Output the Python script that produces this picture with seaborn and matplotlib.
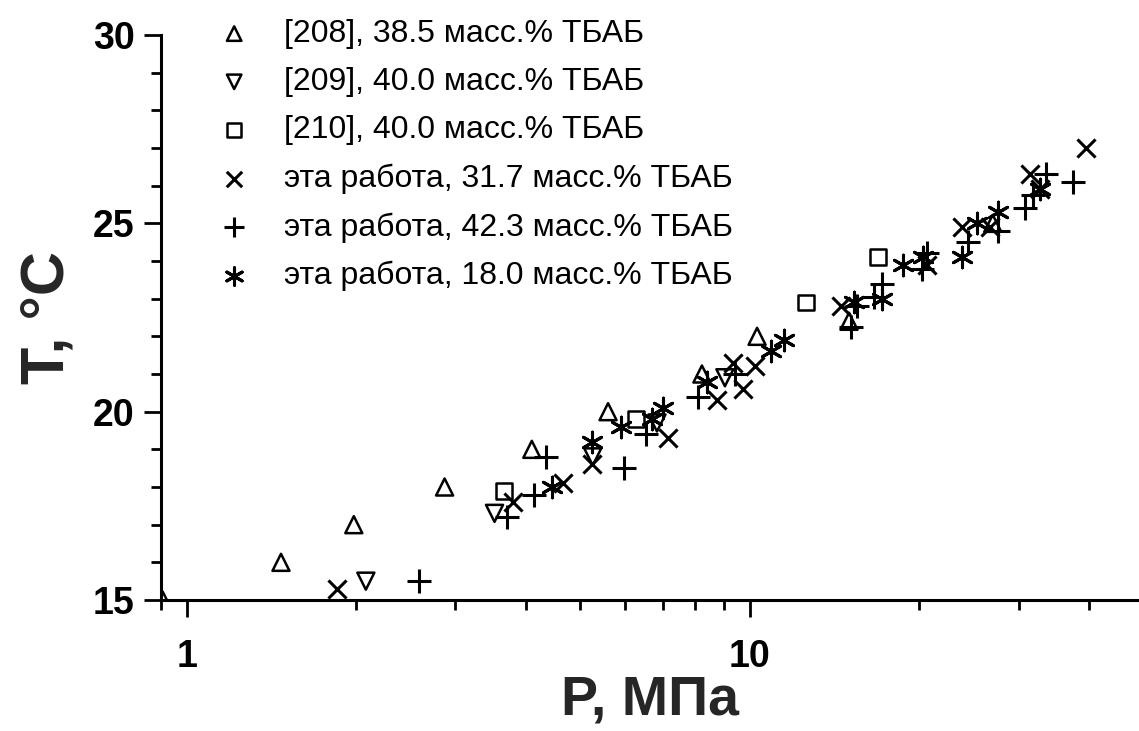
import matplotlib
matplotlib.use("Agg")
import matplotlib.pyplot as plt
import matplotlib.ticker as mticker
import seaborn as sns
import pandas as pd

# ---- data ----
p_208 = [0.906, 1.47, 1.98, 2.87, 4.10, 5.60, 8.22, 10.3, 15.0, 27.0]
t_208 = [15.0, 16.0, 17.0, 18.0, 19.0, 20.0, 21.0, 22.0, 22.4, 25.0]

p_209 = [2.08, 3.52, 5.26, 6.84, 9.03]
t_209 = [15.5, 17.3, 18.8, 19.7, 20.9]

p_210 = [3.66, 6.27, 12.6, 16.9]
t_210 = [17.9, 19.8, 22.9, 24.1]

p_317 = [1.85, 3.79, 4.65, 5.24, 7.15, 8.74, 9.72, 9.33, 10.2, 14.5, 20.6, 23.8, 26.7, 31.4, 32.7, 39.5]
t_317 = [15.3, 17.6, 18.1, 18.6, 19.3, 20.3, 20.6, 21.3, 21.2, 22.8, 23.9, 24.9, 24.9, 26.3, 25.9, 27.0]

p_423 = [2.59, 3.70, 4.14, 4.34, 5.97, 6.53, 8.09, 9.41, 15.1, 15.5, 16.6, 17.2, 20.2, 20.6, 24.4, 27.6, 30.8, 31.8, 33.6, 37.5]
t_423 = [15.5, 17.2, 17.8, 18.8, 18.5, 19.4, 20.4, 21.0, 22.25, 22.8, 23.05, 23.4, 23.8, 24.2, 24.5, 24.8, 25.4, 25.75, 26.3, 26.1]

p_180 = [4.45, 5.24, 5.9, 6.7, 7.0, 8.39, 10.9, 11.5, 15.3, 17.2, 18.7, 20.3, 23.8, 25.3, 27.6, 32.7]
t_180 = [18.0, 19.2, 19.6, 19.8, 20.1, 20.8, 21.6, 21.9, 22.9, 23.0, 23.9, 24.1, 24.1, 25.0, 25.3, 25.9]

labels = ["[208], 38.5 масс.% ТБАБ",
          "[209], 40.0 масс.% ТБАБ",
          "[210], 40.0 масс.% ТБАБ",
          "эта работа, 31.7 масс.% ТБАБ",
          "эта работа, 42.3 масс.% ТБАБ",
          "эта работа, 18.0 масс.% ТБАБ"]

x_ticks = [1, 10]
x_ticklabels = ["1", "10"]
y_ticks = [15, 20, 25, 30]

# ---- style ----
sns.set_theme(style="ticks")
plt.rcParams["font.family"] = ["Liberation Sans", "DejaVu Sans"]

fig = plt.figure(figsize=(11.39, 7.31), dpi=100)
ax = fig.add_axes([161 / 1139, 1 - 600 / 731, 1 - 161 / 1139, (600 - 35) / 731])

series = [
    (p_208, t_208, "^", True, 150),
    (p_209, t_209, "v", True, 150),
    (p_210, t_210, "s", True, 130),
    (p_317, t_317, "x", False, 170),
    (p_423, t_423, "+", False, 300),
    (p_180, t_180, (6, 2, 0), False, 220),
]

for (px, ty, mk, hollow, sz), lab in zip(series, labels):
    df = pd.DataFrame({"P": px, "T": ty})
    if hollow:
        sns.scatterplot(data=df, x="P", y="T", ax=ax, marker=mk, s=sz,
                        facecolors="none", edgecolor="black", linewidth=1.8,
                        label=lab, zorder=3)
    else:
        sns.scatterplot(data=df, x="P", y="T", ax=ax, marker=mk, s=sz,
                        color="black", linewidth=2.2, label=lab, zorder=3)

ax.set_xscale("log")
ax.set_xlim(0.9, 49.1)
ax.set_ylim(15, 30)

ax.xaxis.set_major_locator(mticker.FixedLocator(x_ticks))
ax.xaxis.set_major_formatter(mticker.FixedFormatter(x_ticklabels))
ax.xaxis.set_minor_locator(mticker.LogLocator(base=10, subs=range(2, 10)))
ax.xaxis.set_minor_formatter(mticker.NullFormatter())
ax.yaxis.set_major_locator(mticker.FixedLocator(y_ticks))
ax.yaxis.set_minor_locator(mticker.MultipleLocator(1))

ax.tick_params(which="major", direction="out", length=12, width=2,
               labelsize=27, pad=7, colors="black")
ax.tick_params(which="minor", direction="out", length=7, width=2, colors="black")
ax.tick_params(axis="x", which="major", pad=16)
for lbl in ax.get_xticklabels() + ax.get_yticklabels():
    lbl.set_fontweight("bold")

for side in ["top", "right"]:
    ax.spines[side].set_visible(False)
for side in ["left", "bottom"]:
    ax.spines[side].set_linewidth(2.2)
    ax.spines[side].set_color("black")
    ax.spines[side].set_clip_on(False)

ax.set_xlabel("P, МПа", fontsize=40, fontweight="bold", labelpad=0)
ax.set_ylabel("T, °C", fontsize=44, fontweight="bold", labelpad=12)
ax.grid(False)

leg = ax.legend(loc="upper left", bbox_to_anchor=(219 / 1139, 1 - 19 / 731),
                bbox_transform=fig.transFigure, frameon=False, fontsize=23,
                handlelength=0.95, handletextpad=1.1, labelspacing=0.57,
                borderpad=0, borderaxespad=0, markerscale=0.85)
for t in leg.get_texts():
    t.set_color("black")

fig.savefig("out.png", dpi=100, facecolor="white")
